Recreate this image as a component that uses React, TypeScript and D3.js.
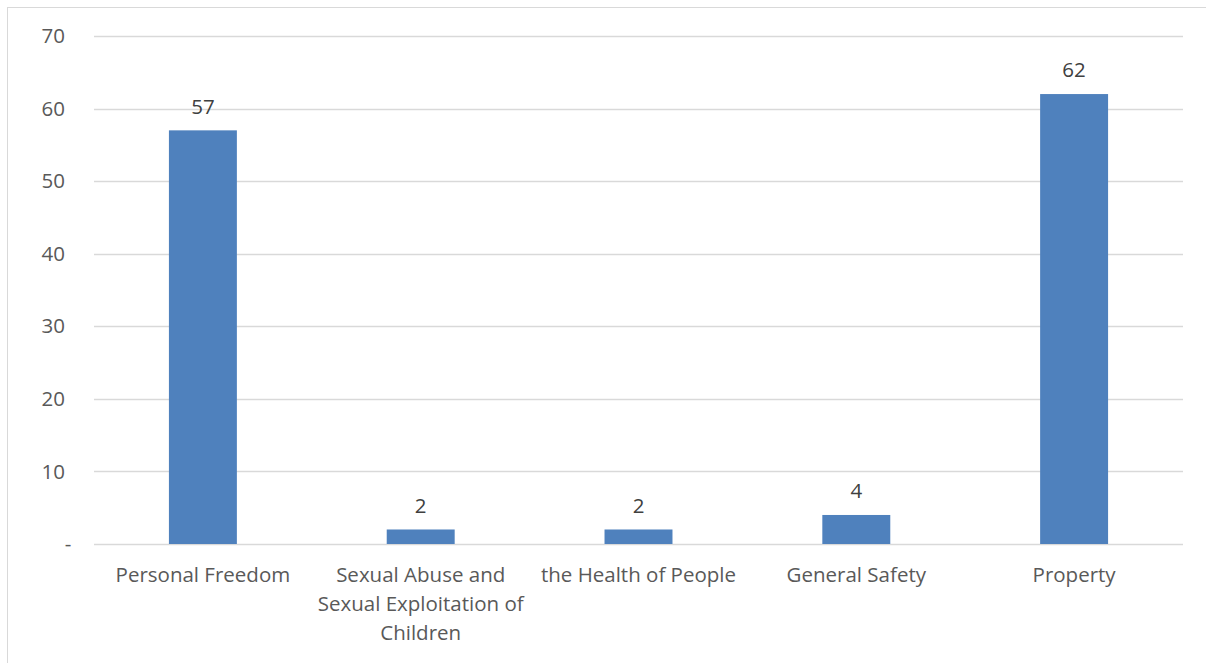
import React from "react";
import * as d3 from "d3";

const categories: string[][] = [
  ["Personal Freedom"],
  ["Sexual Abuse and", "Sexual Exploitation of", "Children"],
  ["the Health of People"],
  ["General Safety"],
  ["Property"],
];
const values: number[] = [57, 2, 2, 4, 62];
const yTicks: number[] = [0, 10, 20, 30, 40, 50, 60, 70];

const W = 1206;
const H = 663;
const plot = { left: 94, right: 1183, top: 36, bottom: 544 };
const FONT = "'Open Sans', 'Noto Sans', sans-serif";
const FS = 20.5;

export default function App() {
  const x = d3
    .scaleBand<number>()
    .domain(d3.range(values.length))
    .range([plot.left, plot.right])
    .paddingInner(0.688)
    .paddingOuter(0.344);
  const y = d3.scaleLinear().domain([0, 70]).range([plot.bottom, plot.top]);

  return (
    <svg
      width={W}
      height={H}
      style={{ position: "absolute", left: 0, top: 0, background: "#fff" }}
    >
      <rect x={7.5} y={7.5} width={W + 10} height={H + 10} fill="#fff" stroke="#d9d9d9" strokeWidth={1} />
      {yTicks.map((t) => (
        <g key={t}>
          <line
            x1={plot.left}
            x2={plot.right}
            y1={Math.round(y(t)) + 0.5}
            y2={Math.round(y(t)) + 0.5}
            stroke="#d9d9d9"
            strokeWidth={1.3}
          />
          <text
            x={t === 0 ? 68 : 65}
            y={y(t)}
            dy="0.35em"
            textAnchor={t === 0 ? "middle" : "end"}
            fontFamily={FONT}
            fontSize={FS}
            fill="#595959"
          >
            {t === 0 ? "-" : t}
          </text>
        </g>
      ))}
      {values.map((v, i) => (
        <g key={i}>
          <rect
            x={x(i)}
            y={y(v)}
            width={x.bandwidth()}
            height={y(0) - y(v)}
            fill="#4f81bd"
          />
          <text
            x={(x(i) as number) + x.bandwidth() / 2}
            y={y(v) - 24}
            dy="0.35em"
            textAnchor="middle"
            fontFamily={FONT}
            fontSize={FS}
            fill="#404040"
          >
            {v}
          </text>
          {categories[i].map((line, j) => (
            <text
              key={j}
              x={(x(i) as number) + x.bandwidth() / 2}
              y={575 + j * 29}
              dy="0.35em"
              textAnchor="middle"
              fontFamily={FONT}
              fontSize={FS}
              fill="#595959"
            >
              {line}
            </text>
          ))}
        </g>
      ))}
    </svg>
  );
}
